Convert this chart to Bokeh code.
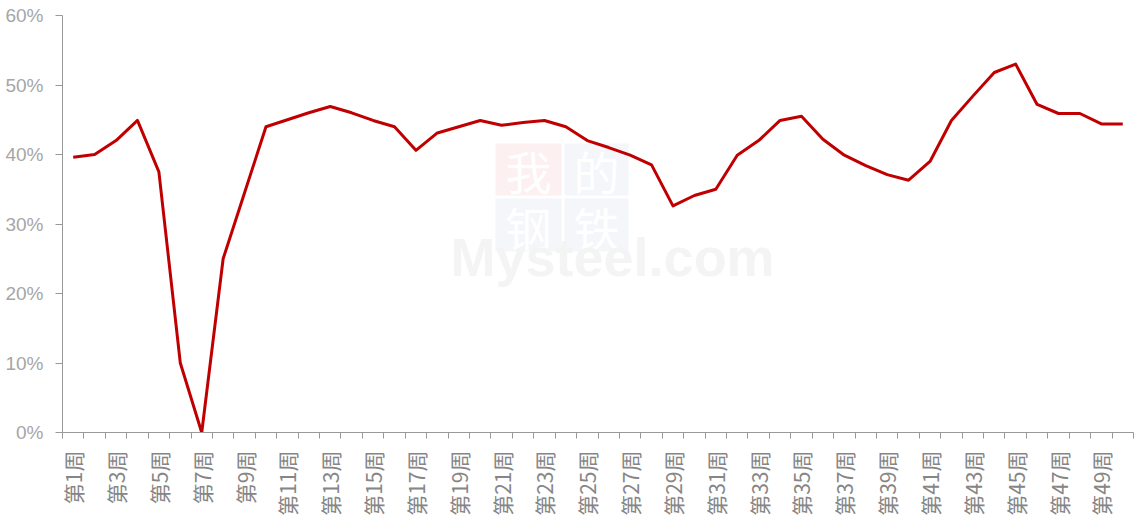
import math
from bokeh.plotting import figure
from bokeh.models import ColumnDataSource, FixedTicker, PrintfTickFormatter, Range1d, Label, BoxAnnotation
from bokeh.embed import file_html
from bokeh.resources import INLINE

weeks = list(range(1, 51))
week_labels = [f"第{w}周" for w in weeks]
values = [39.6, 40.0, 42.0, 44.9, 37.5, 10.0, 0.0, 25.0, 34.5, 44.0,
          45.0, 46.0, 46.9, 46.0, 44.9, 44.0, 40.6, 43.1, 44.0, 44.9,
          44.2, 44.6, 44.9, 44.0, 42.0, 41.0, 39.9, 38.5, 32.6, 34.1,
          35.0, 39.9, 42.0, 44.9, 45.5, 42.2, 39.9, 38.4, 37.1, 36.3,
          39.0, 44.9, 48.4, 51.8, 53.0, 47.2, 45.9, 45.9, 44.4, 44.4]
y_ticks = [0, 10, 20, 30, 40, 50, 60]

src = ColumnDataSource(data=dict(x=weeks, y=values))

p = figure(width=1134, height=518, output_backend="svg", toolbar_location=None,
           x_range=Range1d(0.5, 50.5), y_range=Range1d(0, 60),
           min_border_left=62, min_border_right=1, min_border_top=15, min_border_bottom=86)
p.outline_line_color = None
p.xgrid.visible = False
p.ygrid.visible = False
p.background_fill_color = "white"
p.border_fill_color = "white"

# faint watermark (frame-relative screen units)
for l, r, b, t, col in [(433, 499, 237, 289, "#fcf0f0"), (502, 566, 237, 289, "#f4f6fa"),
                        (433, 499, 181, 234, "#f4f6fa"), (502, 566, 181, 234, "#f4f6fa")]:
    p.add_layout(BoxAnnotation(left=l, right=r, bottom=b, top=t,
                               left_units="screen", right_units="screen",
                               bottom_units="screen", top_units="screen",
                               fill_color=col, fill_alpha=1.0, line_color=None, level="underlay"))
for txt, xs, ys in [("我", 466, 263), ("的", 534, 263), ("钢", 466, 207), ("铁", 534, 207)]:
    p.add_layout(Label(x=xs, y=ys, x_units="screen", y_units="screen", text=txt,
                       text_font="Noto Sans CJK SC", text_font_size="46px", text_color="white",
                       text_align="center", text_baseline="middle", level="underlay"))
p.add_layout(Label(x=388, y=176, x_units="screen", y_units="screen", text="Mysteel.com",
                   text_font="Liberation Sans", text_font_style="bold", text_font_size="54px",
                   text_color="#f4f4f4", text_align="left", text_baseline="alphabetic",
                   level="underlay"))

p.line("x", "y", source=src, line_color="#c00000", line_width=3, line_join="round")

# x axis
xa = p.xaxis[0]
xa.ticker = FixedTicker(ticks=[w for w in weeks if w % 2 == 1],
                        minor_ticks=[w + 0.5 for w in range(0, 51)])
xa.major_label_overrides = {w: week_labels[w - 1] for w in weeks if w % 2 == 1}
xa.major_label_orientation = math.pi / 2
xa.major_tick_line_color = None
xa.minor_tick_line_color = "#999999"
xa.minor_tick_in = 0
xa.minor_tick_out = 6
xa.axis_line_color = "#999999"
xa.major_label_text_font = "Noto Sans CJK SC"
xa.major_label_text_font_size = "21px"
xa.major_label_text_color = "#868686"
xa.major_label_standoff = 12

# y axis
ya = p.yaxis[0]
ya.ticker = FixedTicker(ticks=y_ticks)
ya.formatter = PrintfTickFormatter(format="%d%%")
ya.axis_line_color = "#999999"
ya.major_tick_line_color = "#999999"
ya.major_tick_in = 0
ya.major_tick_out = 7
ya.minor_tick_line_color = None
ya.major_label_text_font = "Liberation Sans"
ya.major_label_text_font_size = "19px"
ya.major_label_text_color = "#a6a6a6"
ya.major_label_standoff = 12

open("out.html", "w").write(file_html(p, INLINE))
